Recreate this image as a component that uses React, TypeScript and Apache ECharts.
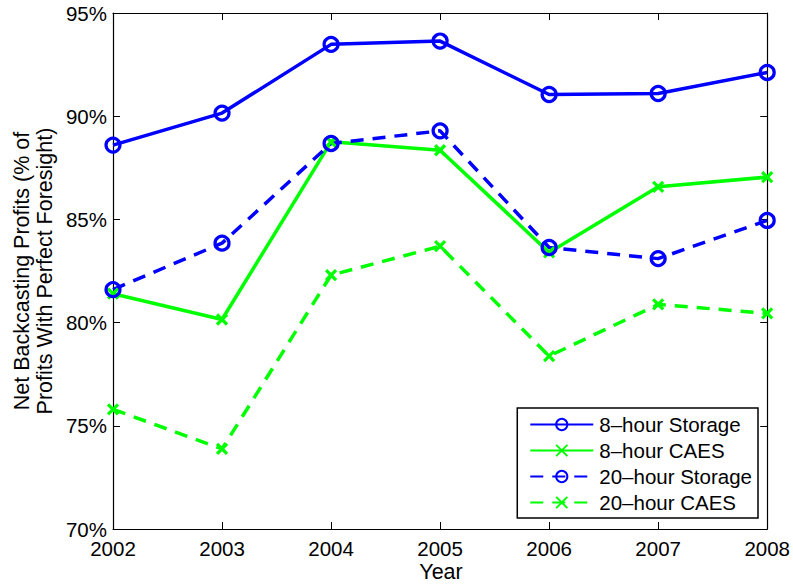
import { useEffect, useRef } from 'react';
import * as echarts from 'echarts';

const years = [2002, 2003, 2004, 2005, 2006, 2007, 2008];
const storage8 = [88.6, 90.15, 93.48, 93.64, 91.05, 91.1, 92.12];
const caes8 = [81.4, 80.15, 88.76, 88.35, 83.4, 86.58, 87.05];
const storage20 = [81.6, 83.85, 88.68, 89.29, 83.64, 83.1, 84.95];
const caes20 = [75.8, 73.88, 82.3, 83.7, 78.38, 80.88, 80.45];

const BLUE = '#0000ff';
const GREEN = '#00ff00';
const FONT = 'Liberation Sans';
const CROSS = 'path://M0,0L10,10M10,0L0,10';

function pairs(vals: number[]) {
  return years.map((y, i) => [y, vals[i]]);
}

function seriesFor(name: string, vals: number[], color: string, dashed: boolean, circle: boolean) {
  return {
    name,
    type: 'line',
    data: pairs(vals),
    symbol: circle ? 'circle' : CROSS,
    symbolSize: circle ? 14 : 10,
    lineStyle: { color, width: 3.5, type: dashed ? [13, 9] : 'solid' },
    itemStyle: {
      color: circle ? 'rgba(0,0,0,0)' : color,
      borderColor: color,
      borderWidth: 3.2,
    },
    emphasis: { disabled: true },
  };
}

export default function App() {
  const ref = useRef<HTMLDivElement>(null);

  useEffect(() => {
    if (!ref.current) return;
    const chart = echarts.init(ref.current, null, { renderer: 'svg' });
    const label = { color: '#000', fontFamily: FONT, fontSize: 20.5, lineHeight: 18 };
    const line = { lineStyle: { color: '#000', width: 1.2 } };
    const tick = { inside: true, length: 7, lineStyle: { color: '#000', width: 1 } };
    chart.setOption({
      animation: false,
      backgroundColor: '#fff',
      grid: { left: 113, right: 24, top: 13, bottom: 56 },
      xAxis: [
        {
          type: 'value', min: 2002, max: 2008, interval: 1,
          axisLine: line, axisTick: tick, splitLine: { show: false },
          axisLabel: { ...label, margin: 10, formatter: (v: number) => String(v) },
        },
        {
          type: 'value', position: 'top', min: 2002, max: 2008, interval: 1,
          axisLine: line, axisTick: tick, splitLine: { show: false },
          axisLabel: { show: false },
        },
      ],
      yAxis: [
        {
          type: 'value', min: 70, max: 95, interval: 5,
          axisLine: { show: true, ...line }, axisTick: { show: true, ...tick }, splitLine: { show: false },
          axisLabel: { ...label, margin: 6, formatter: (v: number) => v + '%' },
        },
        {
          type: 'value', position: 'right', min: 70, max: 95, interval: 5,
          axisLine: { show: true, ...line }, axisTick: { show: true, ...tick }, splitLine: { show: false },
          axisLabel: { show: false },
        },
      ],
      legend: {
        orient: 'vertical',
        right: 35,
        bottom: 67,
        backgroundColor: '#fff',
        borderColor: '#000',
        borderWidth: 1.5,
        padding: [6, 6, 5, 12],
        itemGap: 5,
        itemWidth: 63,
        itemHeight: 14,
        textStyle: { color: '#000', fontFamily: FONT, fontSize: 20.5, lineHeight: 20, padding: [0, 0, 0, 1] },
        data: ['8\u2013hour Storage', '8\u2013hour CAES', '20\u2013hour Storage', '20\u2013hour CAES'],
      },
      graphic: [
        {
          type: 'text',
          x: 33,
          y: 271,
          rotation: Math.PI / 2,
          style: {
            text: 'Net Backcasting Profits (% of\nProfits With Perfect Foresight)',
            fontFamily: FONT,
            fontSize: 21.5,
            fill: '#000',
            align: 'center',
            verticalAlign: 'middle',
            lineHeight: 23,
          },
        },
        {
          type: 'text',
          x: 441,
          y: 572,
          style: {
            text: 'Year',
            fontFamily: FONT,
            fontSize: 21.5,
            lineHeight: 20,
            fill: '#000',
            align: 'center',
            verticalAlign: 'middle',
          },
        },
      ],
      series: [
        seriesFor('8\u2013hour Storage', storage8, BLUE, false, true),
        seriesFor('8\u2013hour CAES', caes8, GREEN, false, false),
        seriesFor('20\u2013hour Storage', storage20, BLUE, true, true),
        seriesFor('20\u2013hour CAES', caes20, GREEN, true, false),
      ],
    });
    return () => chart.dispose();
  }, []);

  return (
    <div
      ref={ref}
      style={{ position: 'fixed', left: 0, top: 0, width: 793, height: 585 }}
    />
  );
}
